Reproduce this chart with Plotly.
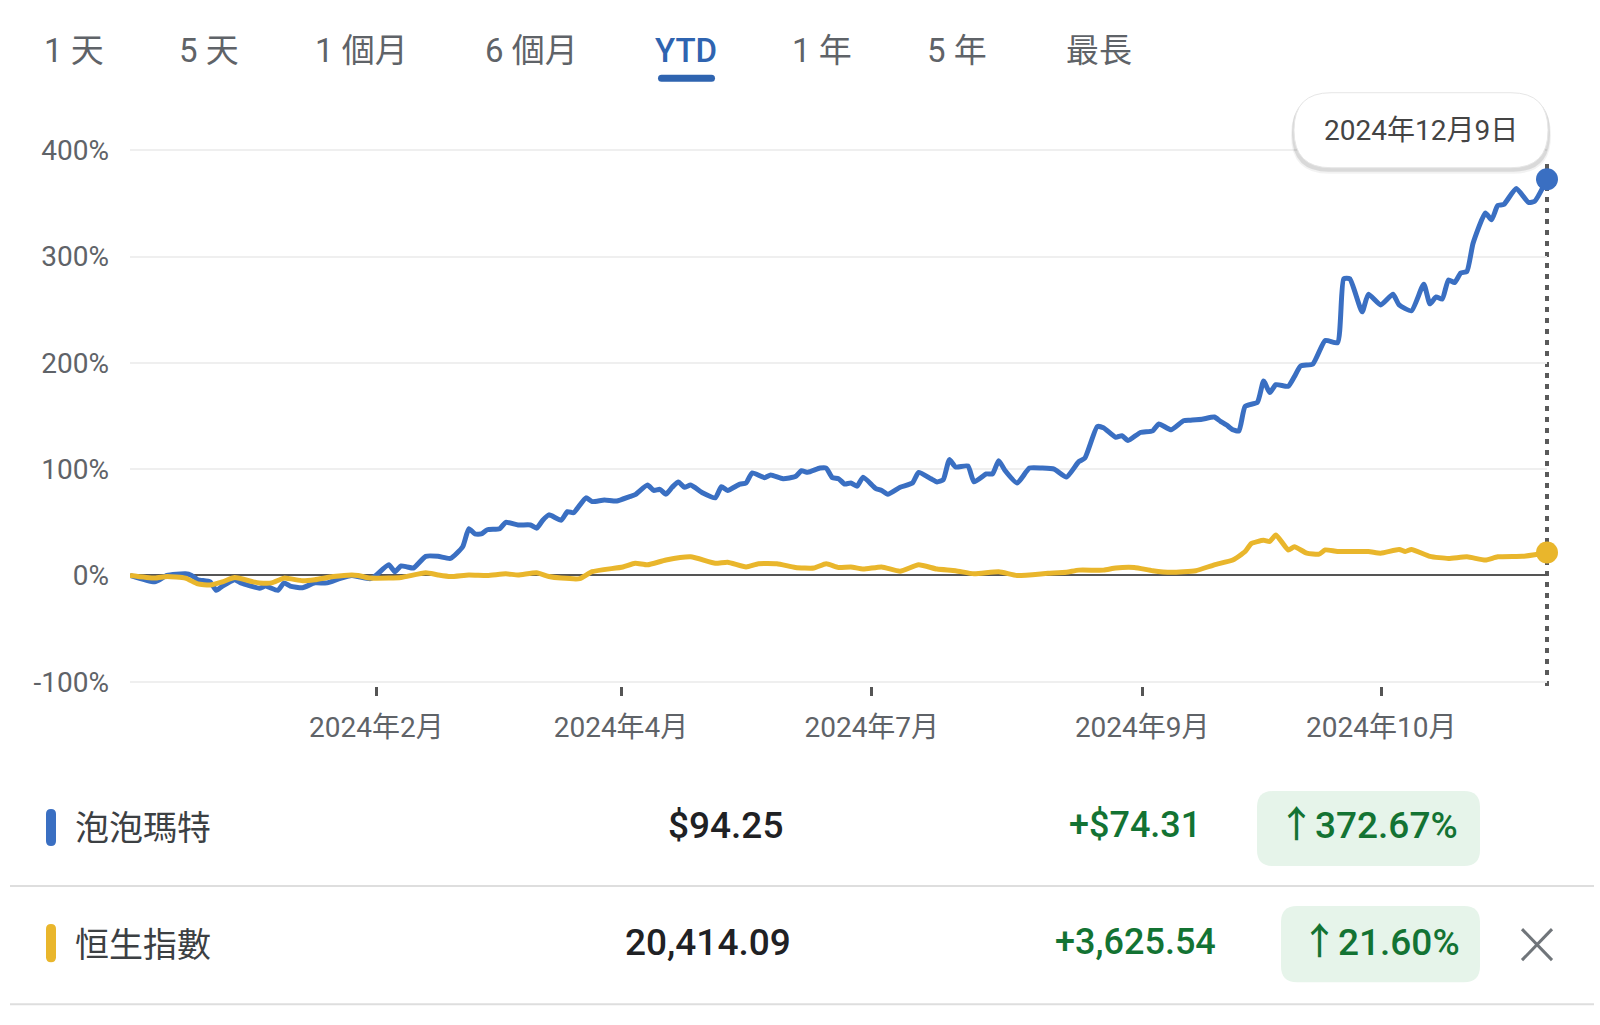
import plotly.graph_objects as go

# ---------------- data ----------------
tabs = ["1 天", "5 天", "1 個月", "6 個月", "YTD", "1 年", "5 年", "最長"]
x_tick_days = [40, 79.7, 120.4, 164.3, 203.1]
x_tick_labels = ["2024年2月", "2024年4月", "2024年7月", "2024年9月", "2024年10月"]
y_tick_vals = [-100, 0, 100, 200, 300, 400]
y_tick_labels = ["-100%", "0%", "100%", "200%", "300%", "400%"]

popmart_day = [0, 4, 6, 9, 10, 11, 13, 14, 15, 17, 18, 21, 22, 24, 25, 26, 28, 30, 32, 34, 36, 37, 39, 40,
               42, 43, 44, 45, 46, 48, 50, 52, 54, 55, 56, 57, 58, 60, 61, 63, 65, 66, 67, 68, 70, 71, 72,
               74, 75, 77, 79, 81, 82, 84, 85, 86, 87, 88, 89, 90, 91, 93, 95, 96, 97, 99, 100, 101, 103,
               104, 106, 108, 109, 110, 112, 113, 114, 115, 116, 117, 118, 119, 121, 122, 123, 125, 127,
               128, 130, 131, 132, 133, 134, 136, 137, 139, 140, 141, 142, 144, 146, 148, 150, 152, 154,
               155, 157, 158, 160, 161, 162, 164, 166, 167, 169, 171, 172, 174, 176, 177, 178, 179, 180,
               181, 183, 184, 185, 186, 188, 189, 190, 192, 194, 196, 197, 198, 200, 201, 203, 205, 206,
               208, 210, 211, 212, 213, 214, 215, 216, 217, 218, 220, 221, 222, 223, 225, 227, 228, 230]
popmart_pct = [0, -6, 0, 1.5, 0, -4, -6, -14, -10, -4, -7, -12, -10, -14, -7, -10, -11.5, -7, -7, -3, 0, -1, -3, 0.5,
               10, 3.5, 9, 8, 7, 18, 18, 16, 27, 44, 39, 39, 43, 44, 50, 47.5, 47.5, 44.5, 52, 57, 52, 60, 59,
               73, 69.5, 71, 70, 74, 76, 85, 80, 81, 76.5, 83, 88, 83, 85, 77.5, 73, 83.5, 80, 86, 87, 96.5, 92,
               94.5, 91, 93, 98.5, 97, 101, 101, 92, 91, 86, 87, 84, 92.5, 82, 80, 76.5, 83, 87,
               97, 91, 88, 90, 109, 102, 103, 88, 95.5, 95.5, 108, 99, 87, 101, 101, 100, 92.5, 107,
               110.5, 140, 139, 130, 131.5, 127, 134.5, 136, 142.5, 137, 145.5, 146, 147, 149, 145, 141.5, 137, 136,
               159, 163, 183, 172, 179.5, 178, 187, 197, 199, 221, 219, 279, 279, 248, 264.5, 254.5, 264.5, 254.5,
               249, 274, 255.5, 262, 260, 278, 275.5, 284.5, 286, 312.5, 341, 334.5, 348, 349, 364, 351, 352, 372.67]

hsi_day = [0, 4, 6, 9, 11, 13, 15, 17, 20, 21, 23, 25, 28, 30, 33, 36, 37, 39, 42, 44, 48, 50, 52, 55, 58, 61,
           63, 66, 68, 70, 73, 75, 80, 82, 84, 87, 91, 95, 97, 100, 102, 105, 108, 111, 113, 115, 117, 119,
           122, 125, 128, 131, 134, 137, 141, 144, 149, 152, 154, 158, 160, 163, 166, 169, 173, 176, 179,
           181, 182, 184, 185, 186, 188, 189, 191, 193, 194, 196, 201, 203, 206, 207, 208, 211, 214, 217,
           220, 222, 226, 228, 230]
hsi_pct = [0, -2.5, -1, -2.5, -8, -9, -6, -2, -6, -7, -7, -2.5, -5, -4, -1, 0.5, 0, -2.5, -2.5, -2, 2.5, 0.5, -1, 0.5, 0, 1.5,
           0.5, 2.5, -1, -2.5, -3, 3.5, 8, 11.5, 10, 14.5, 17.5, 11.5, 12.5, 8, 11, 11, 7.5, 7, 11, 7.5, 8, 6,
           8, 4, 10, 6, 4.5, 1.5, 3.5, 0, 2, 3, 5, 5, 7, 7.5, 4.5, 3, 4.5, 10, 14.5,
           22.5, 30, 33, 32, 38, 24, 27, 21, 20, 24, 22.5, 22.5, 21, 24.5, 22.5, 24.5, 18, 16, 17.5,
           14.5, 17.5, 18, 19.5, 21.6]

tooltip_date = "2024年12月9日"
rows = [
    {"name": "泡泡瑪特", "price": "$94.25", "change": "+$74.31", "pct": "↑372.67%"},
    {"name": "恒生指數", "price": "20,414.09", "change": "+3,625.54", "pct": "↑21.60%"},
]

BLUE = "#3a6fc2"
YELLOW = "#e9b62c"
GREEN = "#137333"
GRAY = "#5f6368"

# ---------------- geometry helpers ----------------
W, H = 1600, 1025
L, R = 130, 1547
T, B = 146.25, 686


def px(x):
    return (x - L) / (R - L)


def py(y):
    return (B - y) / (B - T)


def rrect(x0, y0, x1, y1, r):
    return (f"M {px(x0 + r)},{py(y0)} L {px(x1 - r)},{py(y0)} Q {px(x1)},{py(y0)} {px(x1)},{py(y0 + r)} "
            f"L {px(x1)},{py(y1 - r)} Q {px(x1)},{py(y1)} {px(x1 - r)},{py(y1)} "
            f"L {px(x0 + r)},{py(y1)} Q {px(x0)},{py(y1)} {px(x0)},{py(y1 - r)} "
            f"L {px(x0)},{py(y0 + r)} Q {px(x0)},{py(y0)} {px(x0 + r)},{py(y0)} Z")


FONT = "Roboto, 'Noto Sans CJK TC', sans-serif"
CJK = "'Noto Sans CJK TC', Roboto, sans-serif"

fig = go.Figure()
fig.add_trace(go.Scatter(x=popmart_day, y=popmart_pct, mode="lines",
                         line=dict(color=BLUE, width=5, shape="spline", smoothing=0.5),
                         hoverinfo="skip", cliponaxis=False))
fig.add_trace(go.Scatter(x=hsi_day, y=hsi_pct, mode="lines",
                         line=dict(color=YELLOW, width=5, shape="spline", smoothing=0.5),
                         hoverinfo="skip", cliponaxis=False))
fig.add_trace(go.Scatter(x=[popmart_day[-1], hsi_day[-1]], y=[popmart_pct[-1], hsi_pct[-1]], mode="markers",
                         marker=dict(color=[BLUE, YELLOW], size=22), hoverinfo="skip", cliponaxis=False))

shapes = []
# dotted vertical cursor line (paper-referenced so it is not clipped at the plot edge)
shapes.append(dict(type="line", xref="paper", yref="paper", x0=1, x1=1, y0=py(686), y1=py(162),
                   line=dict(color="#5a5a5a", width=4, dash="5px,6px"), layer="below"))
# tooltip pill with shadow
shapes.append(dict(type="path", xref="paper", yref="paper", path=rrect(1291, 97, 1551, 174, 38),
                   fillcolor="rgba(0,0,0,0.05)", line=dict(width=0)))
shapes.append(dict(type="path", xref="paper", yref="paper", path=rrect(1292, 95, 1550, 172, 37),
                   fillcolor="rgba(0,0,0,0.10)", line=dict(width=0)))
shapes.append(dict(type="path", xref="paper", yref="paper", path=rrect(1294, 93, 1548, 168, 37),
                   fillcolor="white", line=dict(color="#e6e6e6", width=1)))
# YTD underline
shapes.append(dict(type="path", xref="paper", yref="paper", path=rrect(658, 75, 715, 82, 3.5),
                   fillcolor="#2f64b0", line=dict(width=0)))
# legend color bars
shapes.append(dict(type="path", xref="paper", yref="paper", path=rrect(46, 809, 56, 846, 5),
                   fillcolor=BLUE, line=dict(width=0)))
shapes.append(dict(type="path", xref="paper", yref="paper", path=rrect(46, 924, 56, 962, 5),
                   fillcolor=YELLOW, line=dict(width=0)))
# badges
shapes.append(dict(type="path", xref="paper", yref="paper", path=rrect(1257, 791, 1480, 866, 16),
                   fillcolor="#e6f4ea", line=dict(width=0)))
shapes.append(dict(type="path", xref="paper", yref="paper", path=rrect(1281, 906, 1480, 982, 16),
                   fillcolor="#e6f4ea", line=dict(width=0)))
# dividers
for yy in (886, 1004):
    shapes.append(dict(type="line", xref="paper", yref="paper", x0=px(10), x1=px(1594), y0=py(yy), y1=py(yy),
                       line=dict(color="#dedede", width=2)))
# close icon
shapes.append(dict(type="line", xref="paper", yref="paper", x0=px(1522), x1=px(1552), y0=py(929), y1=py(960),
                   line=dict(color="#70757a", width=3)))
shapes.append(dict(type="line", xref="paper", yref="paper", x0=px(1522), x1=px(1552), y0=py(960), y1=py(929),
                   line=dict(color="#70757a", width=3)))

annotations = []
tab_x = [74, 209, 361, 531, 686, 822, 957, 1099]
for t, xx in zip(tabs, tab_x):
    annotations.append(dict(text=t, x=px(xx), y=py(51), xref="paper", yref="paper", showarrow=False,
                            xanchor="center", yanchor="middle",
                            font=dict(family=FONT, size=33,
                                      color="#2f64b0" if t == "YTD" else GRAY,
                                      weight=500 if t == "YTD" else 400)))
annotations.append(dict(text=tooltip_date, x=px(1421), y=py(131), xref="paper", yref="paper", showarrow=False,
                        xanchor="center", yanchor="middle", font=dict(family=FONT, size=28, color="#444444")))

row_y = [825, 942]
for r_, yy in zip(rows, row_y):
    annotations.append(dict(text=r_["name"], x=px(73), y=py(yy), xref="paper", yref="paper", showarrow=False,
                            xanchor="left", yanchor="middle", font=dict(family=CJK, size=34, color="#3c4043")))
for r_, yy, cx in zip(rows, row_y, [725, 708]):
    annotations.append(dict(text=r_["price"], x=px(cx), y=py(yy), xref="paper", yref="paper", showarrow=False,
                            xanchor="center", yanchor="middle",
                            font=dict(family=FONT, size=37, color="#202124", weight=500)))
for r_, yy in zip(rows, row_y):
    annotations.append(dict(text=r_["change"], x=px(1135), y=py(yy), xref="paper", yref="paper", showarrow=False,
                            xanchor="center", yanchor="middle",
                            font=dict(family=FONT, size=36, color=GREEN, weight=500)))
for r_, yy, cx in zip(rows, row_y, [1368, 1380]):
    annotations.append(dict(text=r_["pct"], x=px(cx), y=py(yy), xref="paper", yref="paper", showarrow=False,
                            xanchor="center", yanchor="middle",
                            font=dict(family=FONT, size=37, color=GREEN, weight=500)))

fig.update_layout(
    width=W, height=H,
    margin=dict(l=L, r=W - R, t=T, b=H - B, pad=0),
    paper_bgcolor="white", plot_bgcolor="white",
    showlegend=False,
    shapes=shapes,
    annotations=annotations,
    xaxis=dict(range=[0, 230], tickmode="array", tickvals=x_tick_days, ticktext=x_tick_labels,
               ticks="outside", ticklen=9, tickwidth=3, tickcolor="#555555",
               showgrid=False, zeroline=False, showline=False,
               tickfont=dict(family=FONT, size=28, color=GRAY), ticklabelstandoff=7, fixedrange=True),
    yaxis=dict(range=[-104, 404], tickmode="array", tickvals=y_tick_vals, ticktext=y_tick_labels,
               showgrid=True, gridcolor="#efefef", gridwidth=1.5,
               zeroline=True, zerolinecolor="#555555", zerolinewidth=1.5, showline=False,
               ticks="", tickfont=dict(family=FONT, size=28, color=GRAY), ticklabelstandoff=20,
               fixedrange=True),
)

fig.write_html("out.html", config={"displayModeBar": False})
